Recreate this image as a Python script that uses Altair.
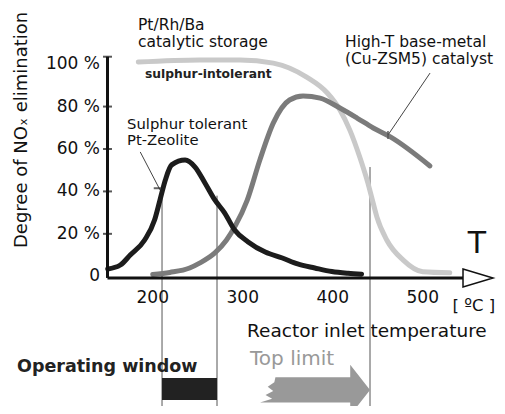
import altair as alt
import pandas as pd

# ---------------- data (T in degC, NOx elimination in %) ----------------
zeolite_T = [150, 164, 175, 191, 202, 208, 214, 221, 236, 247, 258, 269, 280, 291, 306, 325, 344, 361, 380, 399, 417, 432]
zeolite_v = [3.4, 5.3, 10.0, 17.1, 26.5, 35.9, 45.4, 52.5, 54.8, 51.5, 44.0, 36.0, 29.8, 21.8, 16.2, 11.4, 8.6, 5.8, 3.9, 2.2, 1.4, 1.0]

cu_T = [200, 219, 241, 252, 269, 282, 291, 305, 319, 334, 352, 367, 386, 408, 427, 445, 464, 508]
cu_v = [0.8, 1.8, 3.9, 6.2, 11.0, 17.1, 23.2, 35.9, 54.8, 72.3, 83.1, 85.0, 84.0, 79.3, 74.6, 69.9, 65.7, 52.0]

ptrh_T = [184, 252, 297, 334, 371, 394, 408, 419, 430, 439, 444, 449, 460, 478, 500, 530]
ptrh_v = [101.0, 102.0, 102.0, 100.5, 93.9, 86.4, 78.4, 68.9, 56.2, 44.0, 36.0, 28.0, 17.1, 7.7, 2.1, 1.6]

series_names = ["Pt/Rh/Ba", "Cu-ZSM5", "Pt-Zeolite"]
series_colors = ["#c9c9c9", "#7b7b7b", "#1c1c1c"]

y_ticks = [0, 20, 40, 60, 80, 100]
y_tick_labels = ["0", "20 %", "40 %", "60 %", "80 %", "100 %"]
x_ticks = [200, 300, 400, 500]

# temperature markers (operating window and top limit)
window_start, window_end, top_limit = 210.3, 271.4, 441.4
marker_T = [window_start, window_end, top_limit]
marker_top = [40.7, 38.0, 51.5]

# axis extents
axis_T0, axis_T1 = 149.7, 544.7
axis_v0, axis_v1 = -0.8, 103.5

FONT = "DejaVu Sans"

xs = alt.Scale(domain=[39.17, 582.5], nice=False, zero=False)
ys = alt.Scale(domain=[-61.17, 126.47], nice=False, zero=False)
X = alt.X("T:Q", scale=xs, axis=None)
Y = alt.Y("v:Q", scale=ys, axis=None)

curves = pd.concat([
    pd.DataFrame({"T": ptrh_T, "v": ptrh_v, "s": series_names[0]}),
    pd.DataFrame({"T": cu_T, "v": cu_v, "s": series_names[1]}),
    pd.DataFrame({"T": zeolite_T, "v": zeolite_v, "s": series_names[2]}),
])

layers = []

# vertical marker lines
layers.append(
    alt.Chart(pd.DataFrame({"T": marker_T, "v": marker_top, "v2": [-61.5] * 3}))
    .mark_rule(color="#555", strokeWidth=1)
    .encode(x=X, y=Y, y2="v2:Q")
)

# curves
layers.append(
    alt.Chart(curves)
    .mark_line(strokeWidth=5, interpolate="monotone", strokeCap="round")
    .encode(
        x=X, y=Y,
        color=alt.Color("s:N", scale=alt.Scale(domain=series_names, range=series_colors), legend=None),
        order=alt.Order("T:Q"),
    )
)

# axes lines
layers.append(
    alt.Chart(pd.DataFrame({"T": [axis_T0], "T2": [axis_T1], "v": [axis_v0]}))
    .mark_rule(color="#111", strokeWidth=3)
    .encode(x=X, x2="T2:Q", y=Y)
)
layers.append(
    alt.Chart(pd.DataFrame({"T": [axis_T0], "v": [axis_v0], "v2": [axis_v1]}))
    .mark_rule(color="#111", strokeWidth=3)
    .encode(x=X, y=Y, y2="v2:Q")
)
# y ticks and top cap
layers.append(
    alt.Chart(pd.DataFrame({"T": [axis_T0] * 5, "v": [20, 40, 60, 80, axis_v1]}))
    .mark_tick(orient="horizontal", size=9, thickness=2, color="#111")
    .encode(x=X, y=Y)
)
# x-axis arrow head
layers.append(
    alt.Chart(pd.DataFrame({"T": [561.4], "v": [axis_v0]}))
    .mark_point(shape="M -1 -0.6 L 1 0 L -1 0.6 Z", size=900, filled=True,
                fill="white", stroke="#111", strokeWidth=1.5, opacity=1)
    .encode(x=X, y=Y)
)

# leader lines
layers.append(
    alt.Chart(pd.DataFrame({"T": [186.1, 508.1], "v": [58.6, 95.8], "T2": [208.1, 461.4], "v2": [40.7, 66.6]}))
    .mark_rule(color="#444", strokeWidth=1)
    .encode(x=X, y=Y, x2="T2:Q", y2="v2:Q")
)
layers.append(
    alt.Chart(pd.DataFrame({"T": [461.4], "v": [66.6]}))
    .mark_tick(orient="vertical", size=8, thickness=2, color="#555")
    .encode(x=X, y=Y)
)
layers.append(
    alt.Chart(pd.DataFrame({"T": [205.0], "v": [41.5]}))
    .mark_tick(orient="horizontal", size=7, thickness=2, color="#222")
    .encode(x=X, y=Y)
)

# operating window bar
layers.append(
    alt.Chart(pd.DataFrame({"T": [window_start], "T2": [window_end], "v": [-48.0], "v2": [-58.3]}))
    .mark_rect(color="#222")
    .encode(x=X, x2="T2:Q", y=Y, y2="v2:Q")
)
# top-limit arrow
arrow_path = ("M -0.72 -0.23 L 0.64 -0.23 L 0.64 -0.46 L 1 0 L 0.64 0.46 L 0.64 0.23 "
              "L -1 0.23 L -0.78 0.16 L -0.9 0.09 L -0.76 0.02 L -0.86 -0.06 L -0.74 -0.14 Z")
layers.append(
    alt.Chart(pd.DataFrame({"T": [380.3], "v": [-53.6]}))
    .mark_point(shape=arrow_path, size=12100, filled=True, color="#999", opacity=1, strokeWidth=0)
    .encode(x=X, y=Y)
)


def text_layer(T, v, labels, size, color="#111", weight="normal", align="left",
               baseline="alphabetic", angle=None):
    kw = dict(fontSize=size, color=color, fontWeight=weight, align=align,
              baseline=baseline, font=FONT)
    if angle is not None:
        kw["angle"] = angle
    return (alt.Chart(pd.DataFrame({"T": T, "v": v, "label": labels}))
            .mark_text(**kw).encode(x=X, y=Y, text="label:N"))


# tick labels
layers.append(text_layer([141.4] * 6, y_ticks, y_tick_labels, 17, align="right", baseline="middle"))
layers.append(text_layer(x_ticks, [-12.6] * 4, [str(t) for t in x_ticks], 17, align="center"))

# annotations
layers.append(text_layer([183.6, 183.6], [116.1, 108.1], ["Pt/Rh/Ba", "catalytic storage"], 15.5))
layers.append(text_layer([191.4], [93.5], ["sulphur-intolerant"], 12.3, weight="bold", color="#222"))
layers.append(text_layer([413.6, 413.6], [108.1, 100.0], ["High-T base-metal", "(Cu-ZSM5) catalyst"], 15.5))
layers.append(text_layer([171.4, 171.4], [69.2, 61.9], ["Sulphur tolerant", "Pt-Zeolite"], 14.8))
layers.append(text_layer([560.3], [11.0], ["T"], 30, align="center"))
layers.append(text_layer([533.0], [-16.4], ["[ ºC ]"], 16.5))
layers.append(text_layer([304.7], [-28.7], ["Reactor inlet temperature"], 18.5))
layers.append(text_layer([49.2], [-45.1], ["Operating window"], 17.5, weight="bold", color="#222"))
layers.append(text_layer([308.1], [-41.8], ["Top limit"], 20, color="#999"))
layers.append(text_layer([54.7], [69.0], ["Degree of NOₓ elimination"], 18, align="center",
                         baseline="middle", angle=270))

chart = (
    alt.layer(*layers)
    .properties(width=489, height=398, autosize="none", padding=0, background="white")
    .configure_view(stroke=None)
)

chart.save("out.html", embed_options={"renderer": "svg", "actions": False})
